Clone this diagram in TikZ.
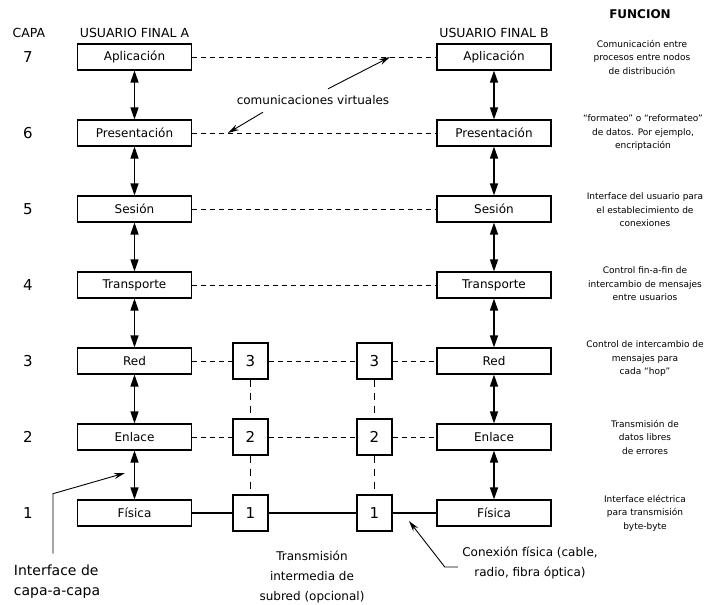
\documentclass[tikz,border=0pt]{standalone}
\usepackage{fontspec}
\setmainfont{DejaVu Sans}
\usetikzlibrary{positioning,arrows.meta}
\tikzset{
  layerbox/.style={draw, line width=1.1pt, fill=white, minimum width=114pt, minimum height=26pt, inner sep=0pt, font=\fontsize{12}{14}\selectfont},
  relaybox/.style={draw, line width=1.1pt, fill=white, minimum width=35pt, minimum height=36pt, inner sep=0pt, font=\fontsize{15}{17}\selectfont},
  peerline/.style={line width=0.8pt, dash pattern=on 5pt off 4pt},
  relayline/.style={line width=1pt, dash pattern=on 7pt off 6pt},
  wireline/.style={line width=1.8pt},
  stackarrow/.style={{Triangle[length=12pt,width=8pt]}-{Triangle[length=12pt,width=8pt]}, line width=1.2pt},
  notearrow/.style={-{Stealth[length=11pt,width=6pt]}, line width=0.9pt},
  layernum/.style={font=\fontsize{15}{17}\selectfont},
  headlabel/.style={font=\fontsize{12.5}{14}\selectfont},
  funclabel/.style={align=center, font=\fontsize{9}{13.5}\selectfont},
  notelabel/.style={align=center, font=\fontsize{12}{20}\selectfont}
}

\begin{document}
\begin{tikzpicture}[x=1pt, y=-1pt]
  \useasboundingbox (0,0) rectangle (710,605);
  % column heads
  \node[headlabel] (capa) at (29,33) {CAPA};
  \node[headlabel] (usrA) at (134.5,33) {USUARIO FINAL A};
  \node[headlabel] (usrB) at (494,33) {USUARIO FINAL B};
  \node[headlabel, font=\bfseries\fontsize{12}{14}\selectfont] (func) at (640,14) {FUNCION};

  % layer numbers
  \node[layernum] (lyr7) at (28,57) {7};
  \node[layernum] (lyr6) at (28,133) {6};
  \node[layernum] (lyr5) at (28,209) {5};
  \node[layernum] (lyr4) at (28,285) {4};
  \node[layernum] (lyr3) at (28,361) {3};
  \node[layernum] (lyr2) at (28,437) {2};
  \node[layernum] (lyr1) at (28,513) {1};

  % stack of end user A
  \node[layerbox] (a7) at (134.5,57) {Aplicación};
  \node[layerbox] (a6) at (134.5,133) {Presentación};
  \node[layerbox] (a5) at (134.5,209) {Sesión};
  \node[layerbox] (a4) at (134.5,285) {Transporte};
  \node[layerbox] (a3) at (134.5,361) {Red};
  \node[layerbox] (a2) at (134.5,437) {Enlace};
  \node[layerbox] (a1) at (134.5,513) {Física};

  % stack of end user B
  \node[layerbox] (b7) at (494,57) {Aplicación};
  \node[layerbox] (b6) at (494,133) {Presentación};
  \node[layerbox] (b5) at (494,209) {Sesión};
  \node[layerbox] (b4) at (494,285) {Transporte};
  \node[layerbox] (b3) at (494,361) {Red};
  \node[layerbox] (b2) at (494,437) {Enlace};
  \node[layerbox] (b1) at (494,513) {Física};

  % intermediate subnet nodes
  \node[relaybox] (m3) at (250.5,361) {3};
  \node[relaybox] (m2) at (250.5,437) {2};
  \node[relaybox] (m1) at (250.5,513) {1};
  \node[relaybox] (n3) at (374.5,361) {3};
  \node[relaybox] (n2) at (374.5,437) {2};
  \node[relaybox] (n1) at (374.5,513) {1};

  % layer to layer interfaces
  \draw[stackarrow] (a7) -- (a6); \draw[stackarrow] (b7) -- (b6);
  \draw[stackarrow] (a6) -- (a5); \draw[stackarrow] (b6) -- (b5);
  \draw[stackarrow] (a5) -- (a4); \draw[stackarrow] (b5) -- (b4);
  \draw[stackarrow] (a4) -- (a3); \draw[stackarrow] (b4) -- (b3);
  \draw[stackarrow] (a3) -- (a2); \draw[stackarrow] (b3) -- (b2);
  \draw[stackarrow] (a2) -- (a1); \draw[stackarrow] (b2) -- (b1);

  % peer (virtual) paths
  \draw[peerline] (a7) -- (b7);
  \draw[peerline] (a6) -- (b6);
  \draw[peerline] (a5) -- (b5);
  \draw[peerline] (a4) -- (b4);
  \draw[peerline] (a3) -- (m3) -- (n3) -- (b3);
  \draw[peerline] (a2) -- (m2) -- (n2) -- (b2);
  \draw[relayline] (m3) -- (m2) -- (m1);
  \draw[relayline] (n3) -- (n2) -- (n1);

  % physical medium
  \draw[wireline] (a1) -- (m1) -- (n1) -- (b1);

  % function of each layer
  \node[funclabel] (f7) at (642,57) {Comunicación entre\\procesos entre nodos\\de distribución};
  \node[funclabel] (f6) at (643,133) {``formateo'' o ``reformateo''\\de datos. Por ejemplo,\\encriptación};
  \node[funclabel] (f5) at (645,210) {Interface del usuario para\\el establecimiento de\\conexiones};
  \node[funclabel] (f4) at (645,284) {Control fin-a-fin de\\intercambio de mensajes\\entre usuarios};
  \node[funclabel] (f3) at (645,359) {Control de intercambio de\\mensajes para\\cada ``hop''};
  \node[funclabel] (f2) at (645,437) {Transmisión de\\datos libres\\de errores};
  \node[funclabel] (f1) at (645,513) {Interface eléctrica\\para transmisión\\byte-byte};

  % notes
  \node[notelabel] (virt) at (313,100) {comunicaciones virtuales};
  \coordinate (v7) at (390,57);
  \coordinate (v6) at (228,133);
  \draw[notearrow] ([xshift=15pt,yshift=3pt]virt.north) -- (v7);
  \draw[notearrow] ([xshift=-50pt,yshift=-4pt]virt.south) -- (v6);

  \node[notelabel, align=left, font=\fontsize{14}{20}\selectfont] (iface) at (57,582) {Interface de\\capa-a-capa};
  \coordinate (ifaceTip) at (125,473);
  \draw[notearrow] ([xshift=-4pt,yshift=8pt]iface.north) -- ++(0,-60) -- (ifaceTip);

  \node[notelabel] (subred) at (312,577) {Transmisión\\intermedia de\\subred (opcional)};

  \node[notelabel] (phys) at (530,563) {Conexión física (cable,\\radio, fibra óptica)};
  \coordinate (wireTip) at (409,521);
  \draw[notearrow] ([xshift=-1pt,yshift=-4pt]phys.west) -- ++(-13,0) -- (wireTip);
\end{tikzpicture}
\end{document}
